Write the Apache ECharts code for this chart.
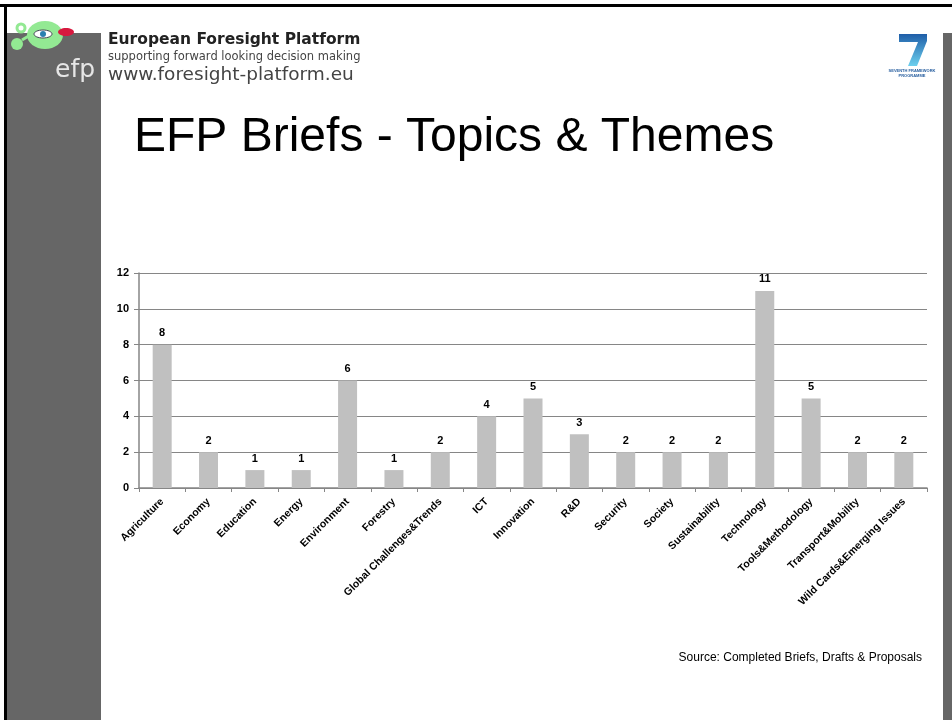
<!DOCTYPE html>
<html>
<head>
<meta charset="utf-8">
<script src="https://cdn.jsdelivr.net/npm/echarts@6/dist/echarts.min.js"></script>
<style>
html, body { margin: 0; padding: 0; background: #fff; }
#main { width: 952px; height: 720px; }
</style>
</head>
<body>
<div id="main"></div>
<script>
// data
var categories = ['Agriculture', 'Economy', 'Education', 'Energy', 'Environment', 'Forestry',
    'Global Challenges&Trends', 'ICT', 'Innovation', 'R&D', 'Security', 'Society',
    'Sustainability', 'Technology', 'Tools&Methodology', 'Transport&Mobility',
    'Wild Cards&Emerging Issues'];
var briefCounts = [8, 2, 1, 1, 6, 1, 2, 4, 5, 3, 2, 2, 2, 11, 5, 2, 2];
var yMin = 0, yMax = 12, yStep = 2;

var slideTitle = 'EFP Briefs - Topics & Themes';
var sourceNote = 'Source: Completed Briefs, Drafts & Proposals';

var FONT = '"Liberation Sans", Arial, sans-serif';
var axisGrey = '#868686';

var myChart = echarts.init(document.getElementById('main'));

// slide decoration (border, side bars, logos, header)
var deco = [
    { type: 'rect', shape: { x: 0, y: 4, width: 952, height: 3 }, style: { fill: '#000' } },
    { type: 'rect', shape: { x: 4, y: 4, width: 3, height: 716 }, style: { fill: '#000' } },
    { type: 'rect', shape: { x: 7, y: 33, width: 94, height: 687 }, style: { fill: '#666' } },
    { type: 'rect', shape: { x: 943, y: 33, width: 9, height: 687 }, style: { fill: '#666' } },
    // efp creature
    { type: 'circle', shape: { cx: 21, cy: 28, r: 4 }, style: { fill: 'none', stroke: '#93e993', lineWidth: 3 } },
    { type: 'circle', shape: { cx: 17, cy: 44, r: 6 }, style: { fill: '#93e993' } },
    { type: 'line', shape: { x1: 22, y1: 40, x2: 32, y2: 34 }, style: { stroke: '#93e993', lineWidth: 3 } },
    { type: 'ellipse', shape: { cx: 45, cy: 35, rx: 18, ry: 14 }, style: { fill: '#93e993' } },
    { type: 'ellipse', shape: { cx: 43, cy: 34, rx: 9, ry: 4 }, style: { fill: '#fff', stroke: '#445', lineWidth: 1 } },
    { type: 'circle', shape: { cx: 43, cy: 34, r: 3 }, style: { fill: '#2a7fb0' } },
    { type: 'ellipse', shape: { cx: 66, cy: 32, rx: 8, ry: 4 }, style: { fill: '#d7193f' } },
    {
        type: 'text', left: 55, top: 58,
        style: { text: 'efp', fill: '#e6e6e6', font: '25px "DejaVu Sans", sans-serif' }
    },
    {
        type: 'text', x: 108, y: 40,
        style: { text: 'European Foresight Platform', fill: '#222', font: 'bold 15.5px "DejaVu Sans", sans-serif', verticalAlign: 'middle' }
    },
    {
        type: 'text', x: 108, y: 57,
        style: { text: 'supporting forward looking decision making', fill: '#444', font: '11.5px "DejaVu Sans", sans-serif', verticalAlign: 'middle' }
    },
    {
        type: 'text', x: 108, y: 75,
        style: { text: 'www.foresight-platform.eu', fill: '#444', font: '18.5px "DejaVu Sans", sans-serif', verticalAlign: 'middle' }
    },
    // FP7 logo
    {
        type: 'polygon',
        shape: { points: [[899, 34], [927, 34], [927, 41], [917, 66], [908, 66], [918, 42], [899, 42]] },
        style: {
            fill: new echarts.graphic.LinearGradient(0, 0, 0, 1, [
                { offset: 0, color: '#1f5ea8' }, { offset: 1, color: '#6cd0ee' }
            ])
        }
    },
    {
        type: 'text', x: 912, y: 69,
        style: { text: 'SEVENTH FRAMEWORK', fill: '#2a60a0', font: 'bold 4px sans-serif', align: 'center' }
    },
    {
        type: 'text', x: 912, y: 74,
        style: { text: 'PROGRAMME', fill: '#2a60a0', font: 'bold 4px sans-serif', align: 'center' }
    },
    // slide title + note
    {
        type: 'text', x: 134, y: 138,
        style: { text: slideTitle, fill: '#000', font: '48px ' + FONT, verticalAlign: 'middle' }
    },
    {
        type: 'text', x: 922, y: 658,
        style: { text: sourceNote, fill: '#000', font: '12px ' + FONT, align: 'right', verticalAlign: 'middle' }
    }
];

myChart.setOption({
    backgroundColor: '#fff',
    animation: false,
    graphic: deco,
    grid: { left: 139, right: 25, top: 273, bottom: 232, containLabel: false },
    xAxis: {
        type: 'category',
        data: categories,
        axisLine: { show: true, lineStyle: { color: axisGrey, width: 1.5 } },
        axisTick: { show: true, length: 4, lineStyle: { color: axisGrey } },
        axisLabel: {
            interval: 0, rotate: 45, margin: 12,
            color: '#000', fontFamily: FONT, fontWeight: 'bold', fontSize: 10.5
        },
        splitLine: { show: false }
    },
    yAxis: {
        type: 'value',
        min: yMin, max: yMax, interval: yStep,
        axisLine: { show: true, lineStyle: { color: axisGrey, width: 1.5 } },
        axisTick: { show: true, length: 5, lineStyle: { color: axisGrey } },
        axisLabel: { margin: 10, color: '#000', fontFamily: FONT, fontWeight: 'bold', fontSize: 11 },
        splitLine: { show: true, lineStyle: { color: axisGrey, width: 1.2 } }
    },
    series: [{
        type: 'bar',
        data: briefCounts,
        barWidth: 19,
        itemStyle: { color: '#c0c0c0' },
        label: {
            show: true, position: 'top', distance: 6,
            color: '#000', fontFamily: FONT, fontWeight: 'bold', fontSize: 11
        }
    }]
});
</script>
</body>
</html>
